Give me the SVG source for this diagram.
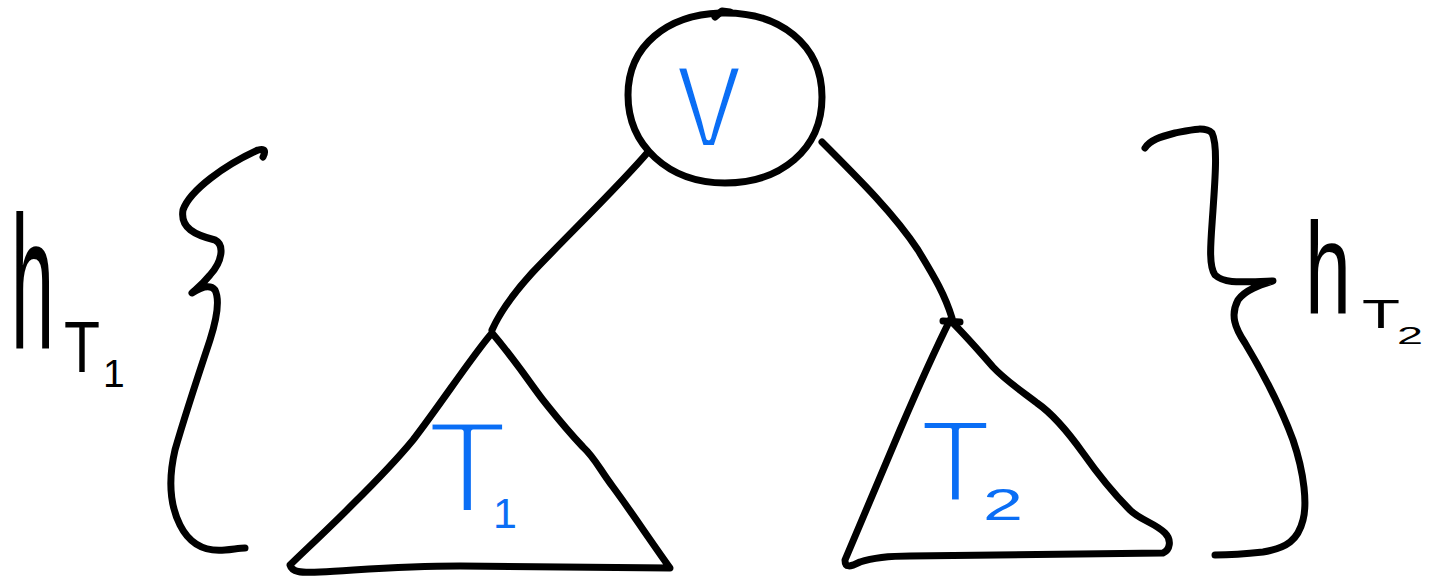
<svg xmlns="http://www.w3.org/2000/svg" width="1436" height="577" viewBox="0 0 1436 577">
<style>
.ink{fill:none;stroke:#000;stroke-width:7;stroke-linecap:round;stroke-linejoin:round}
.lbl{fill:#0a6ef5;font-family:"Liberation Sans",Arial,sans-serif;stroke:#fff;stroke-linejoin:round}
.blk{fill:#000;font-family:"Liberation Sans",Arial,sans-serif}
</style>
<rect width="1436" height="577" fill="#fff"/>
<g id="connectors">
<path class="ink" d="M648,152 C620,185 565,238 532,273 C512,295 500,312 492,330"/>
<path class="ink" d="M822,142 C860,180 895,215 918,250 C935,278 945,295 952,318"/>
</g>
<g id="node-v">
<text class="lbl" x="675" y="148" font-size="155" stroke-width="6" textLength="68" lengthAdjust="spacingAndGlyphs">v</text>
<path class="ink" d="M720,13 C780,11 822,45 822,97 C822,150 780,183 725,183 C668,183 628,145 628,95 C628,45 668,15 720,13 Z"/>
<path class="ink" d="M715,17 L722,11 L730,12"/>
</g>
<g id="node-T1">
<text class="lbl" x="427" y="513" font-size="132" stroke-width="5">T<tspan x="493" y="528" font-size="43" stroke-width="0">1</tspan></text>
<path class="ink" d="M492,333 C475,352 440,405 413,440 C390,468 360,497 347,510 C325,532 300,555 290,565 C292,572 300,573 320,572 C360,570 400,566 460,566 L670,568 C650,540 630,510 613,487 C600,470 595,458 583,447 C565,428 555,415 543,400 C530,383 515,360 492,333"/>
</g>
<g id="node-T2">
<text class="lbl" x="920" y="502" font-size="116" stroke-width="4">T<tspan x="983" y="520" font-size="44" stroke-width="0" textLength="40" lengthAdjust="spacingAndGlyphs">2</tspan></text>
<path class="ink" d="M950,320 C935,350 915,395 900,430 C885,465 870,500 845,560 C845,568 850,567 860,562 C875,557 890,556 910,556 L1163,553 C1170,550 1172,540 1165,533 C1155,523 1140,520 1130,510 C1110,490 1095,470 1083,453 C1068,432 1050,412 1037,403 C1020,390 1005,380 993,367 C980,352 965,335 950,320"/>
<path class="ink" d="M943,321 L960,322"/>
</g>
<g id="brace-left">
<path class="ink" d="M263,157 C266,151 265,148 258,150 C225,165 190,190 183,210 C180,228 195,235 215,240 C225,245 222,262 210,275 C202,285 195,290 192,293 C200,288 210,284 215,290 C220,300 217,318 210,340 C200,370 185,415 175,450 C168,480 170,505 180,525 C190,545 205,552 225,550 C235,549 240,548 245,548"/>
</g>
<g id="brace-right">
<path class="ink" d="M1145,148 C1150,140 1160,137 1175,133 C1190,130 1205,126 1212,133 C1218,145 1215,180 1213,210 C1211,240 1208,265 1215,275 C1225,284 1240,282 1273,281 C1260,285 1245,290 1238,300 C1230,315 1235,328 1245,343 C1260,368 1280,405 1293,440 C1305,475 1307,505 1303,520 C1298,540 1287,548 1263,552 C1245,554 1230,555 1215,555"/>
</g>
<g id="label-hT1">
<text class="blk"><tspan x="11" y="348" font-size="190" textLength="43" lengthAdjust="spacingAndGlyphs">h</tspan><tspan x="64" y="372" font-size="72" textLength="36" lengthAdjust="spacingAndGlyphs">T</tspan><tspan x="103" y="387" font-size="39">1</tspan></text>
</g>
<g id="label-hT2">
<text class="blk"><tspan x="1305" y="313" font-size="130" textLength="46" lengthAdjust="spacingAndGlyphs">h</tspan><tspan x="1362" y="328" font-size="40" textLength="38" lengthAdjust="spacingAndGlyphs">T</tspan><tspan x="1397" y="344" font-size="23" textLength="26" lengthAdjust="spacingAndGlyphs">2</tspan></text>
</g>
</svg>
